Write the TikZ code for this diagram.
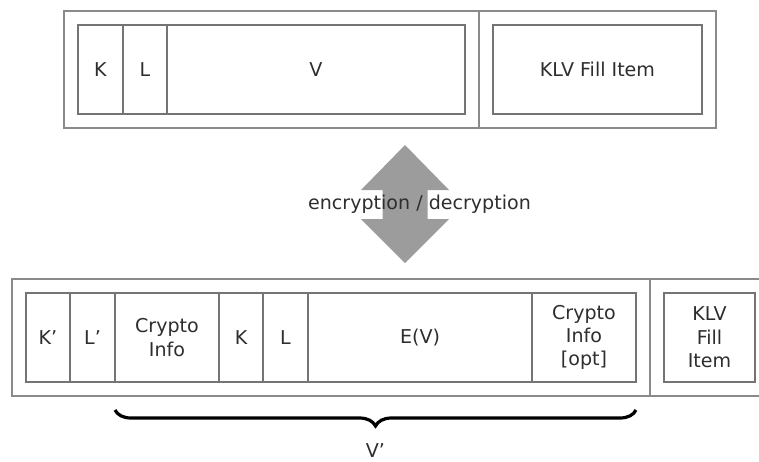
\documentclass[tikz,border=0pt]{standalone}
\usepackage{fontspec}
\setmainfont{DejaVu Sans}
\usepackage{xcolor}
\definecolor{cellline}{HTML}{747474}
\definecolor{frameline}{HTML}{8A8A8A}
\definecolor{arrowgray}{HTML}{9C9C9C}
\definecolor{textgray}{HTML}{2E2E2E}
\usepackage{tikz}
\usetikzlibrary{positioning}
\usetikzlibrary{fit}
\usetikzlibrary{decorations.pathreplacing}
\tikzstyle{cell} = [rectangle, draw=cellline, line width=0.8pt, text=textgray,
    align=center, minimum height=66.75pt, inner sep=0pt, outer sep=0pt,
    font=\fontsize{14.3}{17.5}\selectfont]
\tikzstyle{frame} = [rectangle, draw=frameline, line width=1.1pt, inner sep=10.5pt, outer sep=0pt]
\tikzstyle{label} = [text=textgray, font=\fontsize{14.3}{17.5}\selectfont]

\begin{document}
\begin{tikzpicture}[x=0.75pt, y=-0.75pt, node distance=0pt]
\useasboundingbox (0,0) rectangle (759,461);

        % Place nodes (top packet)
    \node [cell, minimum width=33.75pt, anchor=west] (k) at (78,69.5) {K};
    \node [cell, minimum width=33pt, right=of k] (l) {L};
    \node [cell, minimum width=223.5pt, right=of l] (v) {V};
    \node [cell, minimum width=156.75pt, right=21pt of v] (fill) {KLV Fill Item};
    \node [frame, fit=(k)(v)] (klv) {};
    \node [frame, fit=(fill)] (fillframe) {};

        % encryption / decryption arrow
    \fill [arrowgray] (405,145) -- (449,190) -- (427.5,190) -- (427.5,219) -- (449,219)
        -- (405,263) -- (361,219) -- (382.5,219) -- (382.5,190) -- (361,190) -- cycle;
    \node [label, anchor=base] (crypt) at (419.5,209) {encryption / decryption};

        % Place nodes (bottom packet)
    \node [cell, minimum width=33pt, anchor=west] (kk) at (26,337.5) {K’};
    \node [cell, minimum width=33.75pt, right=of kk] (ll) {L’};
    \node [cell, minimum width=78pt, right=of ll] (info) {Crypto\\Info};
    \node [cell, minimum width=33pt, right=of info] (k2) {K};
    \node [cell, minimum width=33.75pt, right=of k2] (l2) {L};
    \node [cell, minimum width=168pt, right=of l2] (ev) {E(V)};
    \node [cell, minimum width=78pt, right=of ev] (infoopt) {Crypto\\Info\\{[opt]}};
    \node [cell, minimum width=68.25pt, right=21pt of infoopt] (fill2) {KLV\\Fill\\Item};
    \node [frame, fit=(kk)(infoopt)] (enc) {};
    \node [frame, fit=(fill2)] (fill2frame) {};

    \draw [decorate, decoration={brace, mirror, amplitude=12pt}, line width=2.4pt]
        ([yshift=-21pt]info.south west) -- ([yshift=-21pt]infoopt.south east)
        node [label, midway, below=21pt] (vprime) {V’};
\end{tikzpicture}
\end{document}
